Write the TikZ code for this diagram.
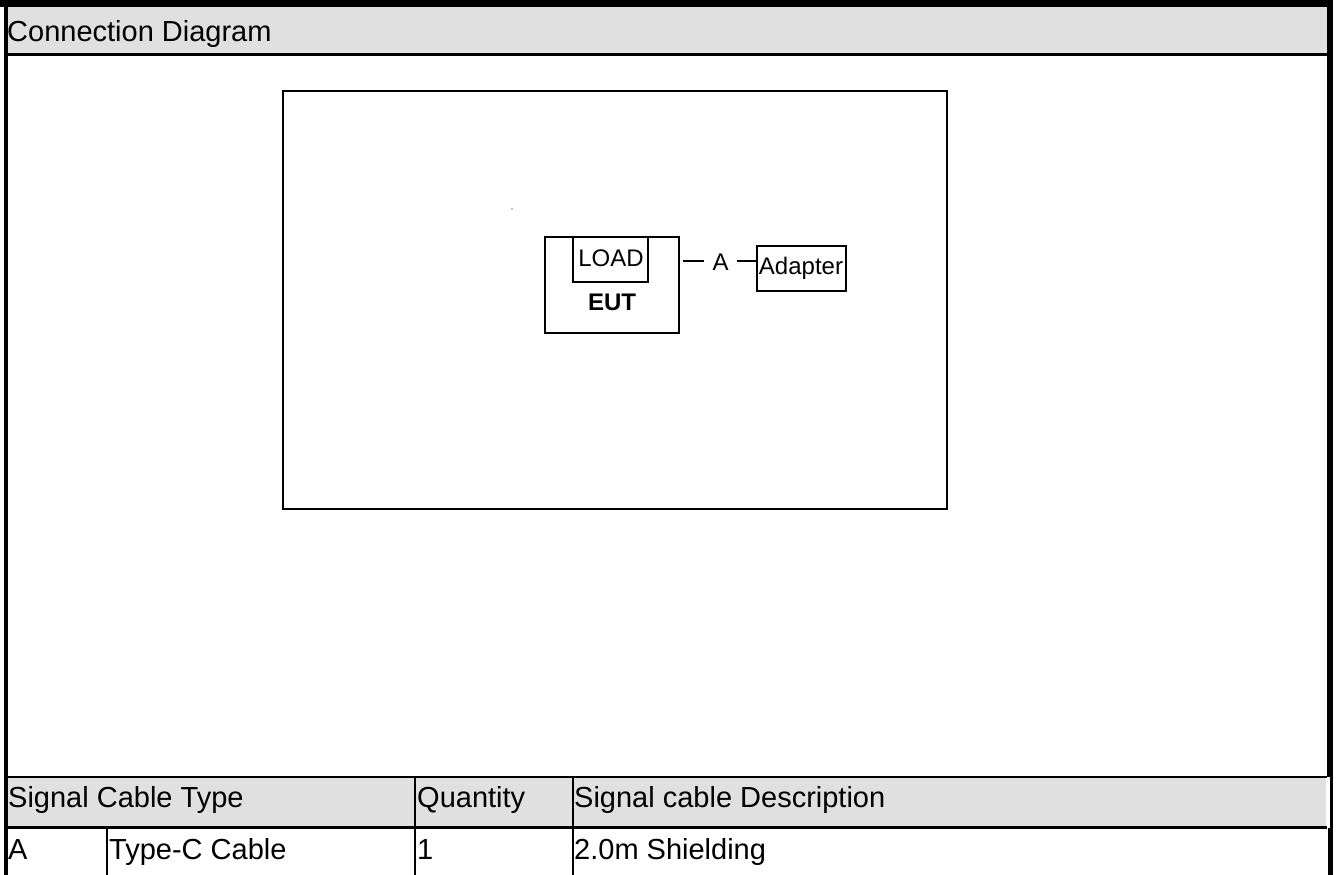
\documentclass[tikz,border=0pt]{standalone}
\usepackage{fontspec}
\setmainfont{Liberation Sans}
\definecolor{hdrgray}{RGB}{224,224,224}
\begin{document}
\begin{tikzpicture}[x=1pt,y=-1pt,
  bigtext/.style={font=\fontsize{29}{34}\selectfont, inner sep=0pt, anchor=base west},
  smalltext/.style={font=\fontsize{24}{28}\selectfont, inner sep=0pt, anchor=base},
  boxnode/.style={draw, line width=1.4pt, inner sep=0pt},
  wire/.style={line width=1.4pt}]
\useasboundingbox (0,0) rectangle (1336,875);
\fill[white] (0,0) rectangle (1336,875);
% header fills
\fill[hdrgray] (8,7) rectangle (1327,53);
\fill[hdrgray] (8,778) rectangle (1326,826);
% frame
\fill[black] (0,0) rectangle (1333,7);
\fill[black] (4,0) rectangle (8,875);
\fill[black] (1327,0) rectangle (1333,777);
\fill[black] (1330,777) rectangle (1333,828);
\fill[black] (1328,828) rectangle (1333,875);
\fill[black] (8,53) rectangle (1327,56);
% table lines
\fill[black] (8,776) rectangle (1327,778);
\fill[black] (8,826) rectangle (1327,829);
\fill[black] (106,829) rectangle (108,875);
\fill[black] (414,778) rectangle (416,875);
\fill[black] (572,778) rectangle (574,875);
% texts
\node[bigtext] (title) at (7,42) {Connection Diagram};
\node[bigtext] (h1) at (8,807) {Signal Cable Type};
\node[bigtext] (h2) at (417,807) {Quantity};
\node[bigtext] (h3) at (574,807) {Signal cable Description};
\node[bigtext] (d1) at (8,859) {A};
\node[bigtext] (d2) at (109,859) {Type-C Cable};
\node[bigtext] (d3) at (417,859) {1};
\node[bigtext] (d4) at (574,859) {2.0m Shielding};
% diagram
\node[boxnode, minimum width=664pt, minimum height=418pt] (frame) at (615,300) {};
\fill (512,209) circle (0.7);
\node[boxnode, minimum width=134pt, minimum height=96pt] (eut) at (612,285) {};
\node[boxnode, minimum width=75pt, minimum height=45pt] (load) at (610.5,259.5) {};
\node[smalltext] (loadt) at (611,266.5) {LOAD};
\node[smalltext, font=\fontsize{24}{28}\selectfont\bfseries] (eutt) at (612,310) {EUT};
\node[boxnode, minimum width=89pt, minimum height=45pt] (ad) at (801.5,268.5) {};
\node[smalltext] (adt) at (801,274) {Adapter};
\node[font=\fontsize{24}{28}\selectfont, inner xsep=8pt, inner ysep=0pt] (cab) at (720.5,262) {A};
\coordinate (c1) at (683,261);
\draw[wire] (c1) -- (c1 -| cab.west);
\draw[wire] (c1 -| cab.east) -- (c1 -| ad.west);
\end{tikzpicture}
\end{document}
